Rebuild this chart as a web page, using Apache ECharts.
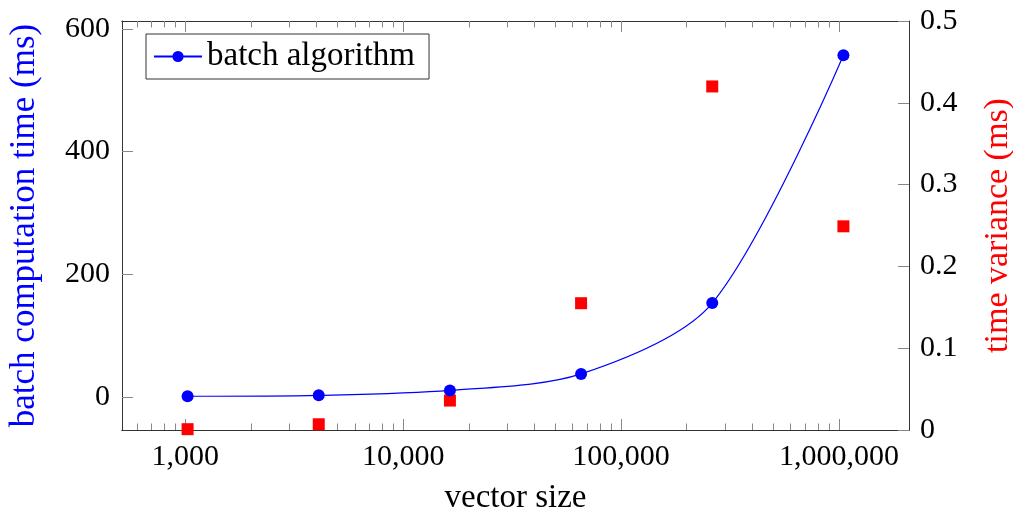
<!DOCTYPE html>
<html>
<head>
<meta charset="utf-8">
<script src="https://cdn.jsdelivr.net/npm/echarts@6/dist/echarts.min.js"></script>
<style>
  html, body { margin: 0; padding: 0; background: #fff; }
  #chart { width: 1013px; height: 514px; }
</style>
</head>
<body>
<div id="chart"></div>
<script>
// Vector sizes (log-scaled x axis)
const vectorSizes = [1024, 4096, 16384, 65536, 262144, 1048576];
// Batch computation time, ms (left axis)
const batchTime = [1, 2.5, 10.5, 37.5, 153, 557];
// Time variance, ms (right axis)
const timeVariance = [0.001, 0.007, 0.036, 0.155, 0.42, 0.249];

// Tick labels
const xMajorTicks = [1000, 10000, 100000, 1000000];
const yLeftTicks = [0, 200, 400, 600];

// Minor log ticks: 2..9 of each decade inside the x range
const xMin = 512, xMax = 2097152;
const xMinorTicks = [];
for (let d = 100; d <= 1000000; d *= 10) {
  for (let m = 2; m <= 9; m++) {
    const v = m * d;
    if (v > xMin && v < 2000000) xMinorTicks.push(v);
  }
}

const FONT = '"Liberation Serif", "Times New Roman", serif';
const LINE = '#333';
const TICK = '#888';

function xAxisBase(position, ticks, len, labels) {
  return {
    type: 'log', position: position, min: xMin, max: xMax,
    axisLine: { show: true, onZero: false, lineStyle: { color: LINE, width: 1 } },
    axisTick: { show: true, inside: true, length: len, customValues: ticks,
                lineStyle: { color: TICK, width: 1 } },
    axisLabel: labels ? {
      show: true, customValues: xMajorTicks, margin: 12,
      fontFamily: FONT, fontSize: 30, color: '#000',
      formatter: v => Number(v).toLocaleString('en-US')
    } : { show: false },
    splitLine: { show: false }, minorTick: { show: false }
  };
}

const chart = echarts.init(document.getElementById('chart'), null, { renderer: 'canvas' });

chart.setOption({
  animation: false,
  backgroundColor: '#fff',
  grid: { left: 122, right: 104, top: 21, bottom: 84, containLabel: false, outerBoundsMode: 'none' },
  legend: {
    data: ['batch algorithm'],
    left: 146, top: 34,
    orient: 'horizontal',
    borderColor: LINE, borderWidth: 1, borderRadius: 0,
    padding: [6, 14, 6, 7],
    itemWidth: 48, itemHeight: 14, itemGap: 5,
    textStyle: { fontFamily: FONT, fontSize: 33, color: '#000', lineHeight: 33 }
  },
  xAxis: [
    Object.assign(xAxisBase('bottom', xMajorTicks, 11, true), {
      name: 'vector size', nameLocation: 'middle', nameGap: 52,
      nameTextStyle: { fontFamily: FONT, fontSize: 33, color: '#000' }
    }),
    xAxisBase('top', xMajorTicks, 11, false),
    xAxisBase('bottom', xMinorTicks, 6.5, false),
    xAxisBase('top', xMinorTicks, 6.5, false)
  ],
  yAxis: [
    {
      type: 'value', position: 'left', min: -54, max: 613,
      name: 'batch computation time (ms)', nameLocation: 'middle', nameGap: 80,
      nameRotate: 90,
      nameTextStyle: { fontFamily: FONT, fontSize: 35, color: '#0000ff' },
      axisLine: { show: true, onZero: false, lineStyle: { color: LINE, width: 1 } },
      axisTick: { show: true, inside: true, length: 11, customValues: yLeftTicks,
                  lineStyle: { color: TICK, width: 1 } },
      axisLabel: { customValues: yLeftTicks, margin: 12, fontFamily: FONT, fontSize: 30, color: '#000' },
      splitLine: { show: false }
    },
    {
      type: 'value', position: 'right', min: 0, max: 0.5, interval: 0.1,
      name: 'time variance (ms)', nameLocation: 'middle', nameGap: 72,
      nameRotate: 90,
      nameTextStyle: { fontFamily: FONT, fontSize: 34, color: '#ff0000' },
      axisLine: { show: true, onZero: false, lineStyle: { color: LINE, width: 1 } },
      axisTick: { show: true, inside: true, length: 11, lineStyle: { color: TICK, width: 1 } },
      axisLabel: { margin: 11, fontFamily: FONT, fontSize: 30, color: '#000',
                   formatter: v => String(+Number(v).toFixed(1)) },
      splitLine: { show: false }
    }
  ],
  series: [
    {
      name: 'batch algorithm',
      type: 'line',
      xAxisIndex: 0, yAxisIndex: 0,
      data: vectorSizes.map((x, i) => [x, batchTime[i]]),
      smooth: 0.3,
      symbol: 'circle', symbolSize: 12,
      itemStyle: { color: '#0000ff' },
      lineStyle: { color: '#0000ff', width: 1.2 },
      clip: false, z: 3
    },
    {
      name: 'time variance',
      type: 'scatter',
      xAxisIndex: 0, yAxisIndex: 1,
      data: vectorSizes.map((x, i) => [x, timeVariance[i]]),
      symbol: 'rect', symbolSize: 12,
      itemStyle: { color: '#ff0000', opacity: 1 },
      clip: false, z: 2
    }
  ]
});
</script>
</body>
</html>
